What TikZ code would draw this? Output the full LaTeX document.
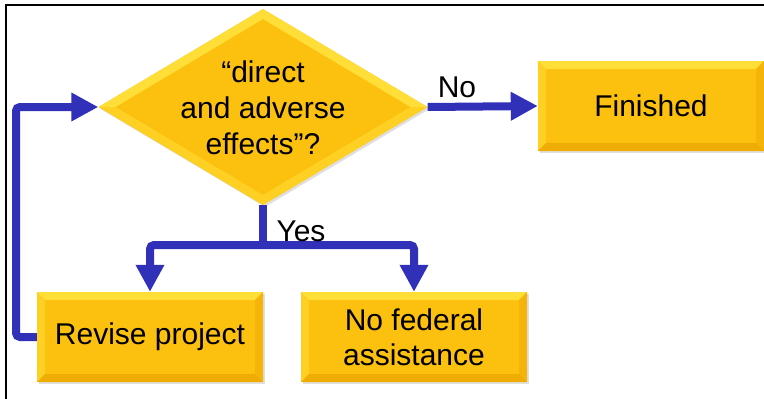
\documentclass[tikz,border=0pt]{standalone}
\usepackage{fontspec}
\setmainfont{Liberation Sans}
\usetikzlibrary{arrows.meta,shapes.geometric,calc,shadows}
\definecolor{boxmid}{RGB}{252,192,14}
\definecolor{bevtop}{RGB}{255,222,56}
\definecolor{bevleft}{RGB}{254,208,36}
\definecolor{bevright}{RGB}{244,180,10}
\definecolor{bevbot}{RGB}{238,172,4}
\definecolor{flowblue}{RGB}{48,48,184}
\tikzset{
  bevelbox/.style={rectangle, fill=boxmid, inner sep=0pt,
    minimum width=226pt, minimum height=90pt, align=center,
    font=\fontsize{30}{35}\selectfont,
    drop shadow={shadow xshift=2pt, shadow yshift=-2pt, opacity=0.25},
    path picture={
      \coordinate (nw) at (path picture bounding box.north west);
      \coordinate (ne) at (path picture bounding box.north east);
      \coordinate (sw) at (path picture bounding box.south west);
      \coordinate (se) at (path picture bounding box.south east);
      \fill[bevtop] (nw) -- (ne) -- ([shift={(-8pt,-8pt)}]ne) -- ([shift={(8pt,-8pt)}]nw) -- cycle;
      \fill[bevleft] (nw) -- (sw) -- ([shift={(8pt,8pt)}]sw) -- ([shift={(8pt,-8pt)}]nw) -- cycle;
      \fill[bevright] (ne) -- (se) -- ([shift={(-8pt,8pt)}]se) -- ([shift={(-8pt,-8pt)}]ne) -- cycle;
      \fill[bevbot] (sw) -- (se) -- ([shift={(-8pt,8pt)}]se) -- ([shift={(8pt,8pt)}]sw) -- cycle;
    }},
  decision/.style={diamond, fill=boxmid, inner sep=0pt,
    minimum width=329pt, minimum height=196pt,
    drop shadow={shadow xshift=2pt, shadow yshift=-2pt, opacity=0.25},
    path picture={
      \coordinate (dn) at (path picture bounding box.north);
      \coordinate (de) at (path picture bounding box.east);
      \coordinate (ds) at (path picture bounding box.south);
      \coordinate (dw) at (path picture bounding box.west);
      \fill[bevtop] (dw) -- (dn) -- ([yshift=-10pt]dn) -- ([xshift=17pt]dw) -- cycle;
      \fill[bevtop] (dn) -- (de) -- ([xshift=-17pt]de) -- ([yshift=-10pt]dn) -- cycle;
      \fill[bevleft] (de) -- (ds) -- ([yshift=10pt]ds) -- ([xshift=-17pt]de) -- cycle;
      \fill[bevleft] (ds) -- (dw) -- ([xshift=17pt]dw) -- ([yshift=10pt]ds) -- cycle;
    }},
  qtext/.style={align=center, font=\fontsize{30}{36}\selectfont, inner sep=0pt},
  flow/.style={draw=flowblue, line width=8pt, rounded corners=4pt,
    -{Triangle[length=27pt,width=27pt]}},
  flowline/.style={draw=flowblue, line width=8pt, rounded corners=4pt},
  lbl/.style={font=\fontsize{30}{34}\selectfont, inner sep=0pt}
}
\begin{document}
\begin{tikzpicture}[x=1pt, y=-1pt]
  \useasboundingbox (0,0) rectangle (764,399);
  % frame
  \draw[line width=2.5pt] (6,399) -- (6,5) -- (764,5);

  % shapes
  \node[decision] (q) at (263,107) {};
  \node[qtext] (qt) at (263,108) {“direct\\and adverse\\effects”?};
  \node[bevelbox] (fin) at (651,106) {Finished};
  \node[bevelbox] (rev) at (150,337) {Revise project};
  \node[bevelbox] (nfa) at (414,337) {No federal\\assistance};

  % connectors
  \coordinate (split) at (263,245);
  \coordinate (loopb) at (16,337);
  \coordinate (loopt) at (16,107);
  \draw[flow] (q.east) -- (fin.west);
  \draw[flowline] (q.south) -- (split);
  \draw[flow] (split) -| (rev.north);
  \draw[flow] (split) -| (nfa.north);
  \draw[flow] (rev.west) -- (loopb) -- (loopt) -- (q.west);

  % labels
  \node[lbl] (no) at (457,87) {No};
  \node[lbl] (yes) at (301,231) {Yes};
\end{tikzpicture}
\end{document}
